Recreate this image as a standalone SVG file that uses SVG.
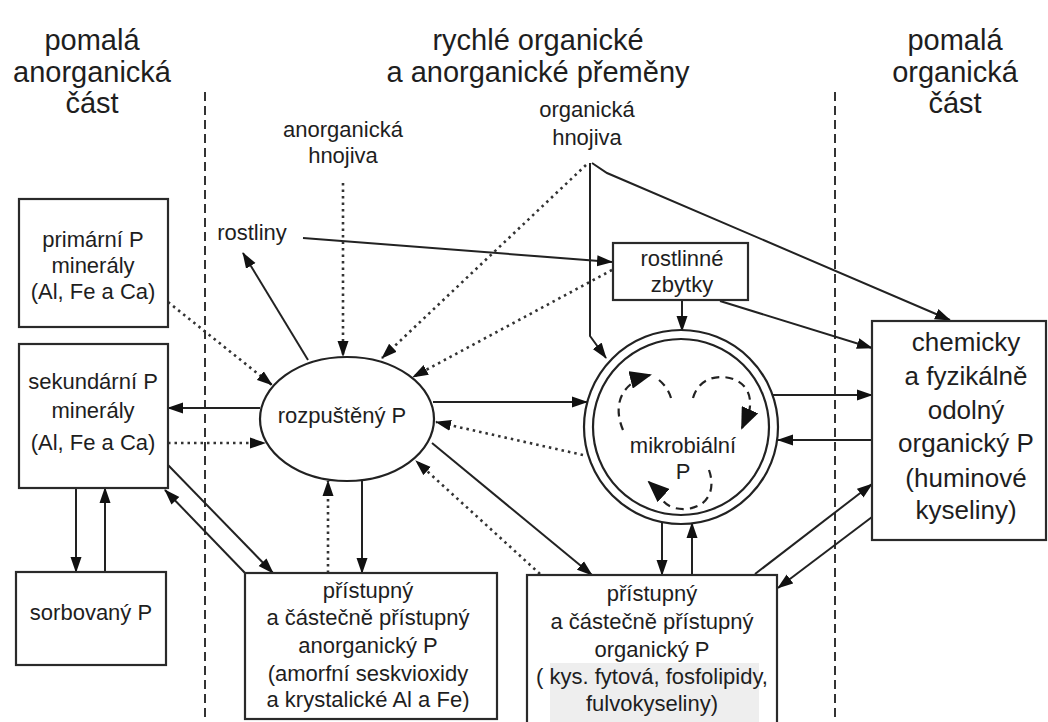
<svg xmlns="http://www.w3.org/2000/svg" width="1048" height="722" viewBox="0 0 1048 722">
<style>
text{font-family:"Liberation Sans",Arial,sans-serif;fill:#1e1e1e;text-anchor:middle}
.h{font-size:29px}
.t{font-size:22px}
.b{font-size:26px}
.box{fill:#fff;stroke:#2a2a2a;stroke-width:2.2}
.s{fill:none;stroke:#222;stroke-width:2;marker-end:url(#ah)}
.d{fill:none;stroke:#333;stroke-width:2.6;stroke-dasharray:2.5 4;marker-end:url(#ah)}
.sep{fill:none;stroke:#333;stroke-width:2;stroke-dasharray:9 5}
.loop{fill:none;stroke:#222;stroke-width:2.2;stroke-dasharray:8 6}
</style>
<defs>
<marker id="ah" markerUnits="userSpaceOnUse" markerWidth="16" markerHeight="12" refX="15" refY="6" orient="auto">
<path d="M0,0.5 L16,6 L0,11.5 z" fill="#111"/>
</marker>
<marker id="big" markerUnits="userSpaceOnUse" markerWidth="22" markerHeight="18" refX="20" refY="9" orient="auto">
<path d="M0,0 L22,9 L0,18 z" fill="#111"/>
</marker>
</defs>
<rect width="1048" height="722" fill="#fff"/>
<g id="headers">
<text class="h" x="92" y="50">pomalá</text>
<text class="h" x="92" y="82">anorganická</text>
<text class="h" x="92" y="113">část</text>
<text class="h" x="538" y="50">rychlé organické</text>
<text class="h" x="538" y="82">a anorganické přeměny</text>
<text class="h" x="955" y="50">pomalá</text>
<text class="h" x="955" y="82">organická</text>
<text class="h" x="955" y="113">část</text>
</g>
<g id="separators">
<line class="sep" x1="205" y1="92" x2="205" y2="722"/>
<line class="sep" x1="835" y1="92" x2="835" y2="722"/>
</g>
<g id="labels">
<text class="t" x="343" y="137">anorganická</text>
<text class="t" x="343" y="163">hnojiva</text>
<text class="t" x="587" y="117">organická</text>
<text class="t" x="587" y="145">hnojiva</text>
<text class="t" x="252" y="240">rostliny</text>
</g>
<g id="connectors">
<path class="s" d="M303,238 L612,262"/>
<path class="s" d="M308,360 L243,253"/>
<path class="d" d="M343,183 L343,356"/>
<path class="d" d="M586,165 L382,358"/>
<path class="d" d="M612,270 L413,377"/>
<path class="s" d="M590,163 L590,336 L606,358"/>
<path class="s" d="M592,163 L607,173 L950,320"/>
<path class="s" d="M682,300 L682,331"/>
<path class="s" d="M720,301 L872,348"/>
<path class="d" d="M168,302 L272,385"/>
<path class="s" d="M260,408 L168,408"/>
<path class="d" d="M168,443 L265,443"/>
<path class="s" d="M168,465 L273,573"/>
<path class="s" d="M245,573 L165,490"/>
<path class="s" d="M76,488 L76,572"/>
<path class="s" d="M105,572 L105,488"/>
<path class="s" d="M362,481 L362,573"/>
<path class="d" d="M328,573 L328,481"/>
<path class="s" d="M433,402 L587,402"/>
<path class="d" d="M583,455 L436,422"/>
<path class="s" d="M432,443 L592,575"/>
<path class="d" d="M540,574 L416,461"/>
<path class="s" d="M662,522 L662,575"/>
<path class="s" d="M692,575 L692,523"/>
<path class="s" d="M755,574 L872,484"/>
<path class="s" d="M872,517 L778,588"/>
<path class="s" d="M773,395 L872,395"/>
<path class="s" d="M872,440 L778,440"/>
</g>
<g id="primarni">
<rect class="box" x="19" y="199" width="149" height="128"/>
<text class="t" x="93" y="247">primární P</text>
<text class="t" x="93" y="273">minerály</text>
<text class="t" x="93" y="299">(Al, Fe a Ca)</text>
</g>
<g id="sekundarni">
<rect class="box" x="19" y="344" width="149" height="144"/>
<text class="t" x="93" y="389">sekundární P</text>
<text class="t" x="93" y="418">minerály</text>
<text class="t" x="93" y="450">(Al, Fe a Ca)</text>
</g>
<g id="sorbovany">
<rect class="box" x="16" y="572" width="150" height="93"/>
<text class="t" x="91" y="620">sorbovaný P</text>
</g>
<g id="rozpusteny">
<ellipse cx="347" cy="419" rx="87" ry="62" fill="#fff" stroke="#222" stroke-width="2.2"/>
<text class="t" x="342" y="423">rozpuštěný P</text>
</g>
<g id="zbytky">
<rect class="box" x="613" y="243" width="135" height="57"/>
<text class="t" x="682" y="266">rostlinné</text>
<text class="t" x="682" y="292">zbytky</text>
</g>
<g id="mikrobialni">
<circle cx="681" cy="427" r="97" fill="#fff" stroke="#222" stroke-width="2.2"/>
<circle cx="681" cy="427" r="88" fill="none" stroke="#222" stroke-width="2.2"/>
<path class="loop" d="M623,430 C612,404 622,382 650,375" marker-end="url(#big)"/>
<path class="loop" d="M659,380 C665,385 669,391 671,398"/>
<path class="loop" d="M693,398 C697,384 708,377 721,377 C742,377 754,392 749,412"/>
<path d="M749,412 L742,428" class="loop" marker-end="url(#big)"/>
<path class="loop" d="M709,470 C716,490 708,507 686,509 C670,510 662,502 659,494"/>
<path d="M662,494 L649,482" fill="none" stroke="#222" stroke-width="2" marker-end="url(#big)"/>
<text class="t" x="683" y="453">mikrobiální</text>
<text class="t" x="683" y="479">P</text>
</g>
<g id="anorganicky">
<rect class="box" x="245" y="573" width="252" height="146"/>
<text class="t" x="368" y="598">přístupný</text>
<text class="t" x="368" y="625">a částečně přístupný</text>
<text class="t" x="368" y="653">anorganický P</text>
<text class="t" x="368" y="681">(amorfní seskvioxidy</text>
<text class="t" x="368" y="707">a krystalické Al a Fe)</text>
</g>
<g id="organicky">
<rect class="box" x="527" y="575" width="250" height="160"/>
<rect x="550" y="663" width="209" height="59" fill="#eeeeee"/>
<text class="t" x="652" y="601">přístupný</text>
<text class="t" x="652" y="629">a částečně přístupný</text>
<text class="t" x="652" y="657">organický P</text>
<text class="t" x="652" y="684">( kys. fytová, fosfolipidy,</text>
<text class="t" x="652" y="711">fulvokyseliny)</text>
</g>
<g id="chemicky">
<rect class="box" x="872" y="321" width="174" height="219"/>
<text class="b" x="966" y="351">chemicky</text>
<text class="b" x="966" y="385">a fyzikálně</text>
<text class="b" x="966" y="419">odolný</text>
<text class="b" x="966" y="452">organický P</text>
<text class="b" x="966" y="487">(huminové</text>
<text class="b" x="966" y="519">kyseliny)</text>
</g>
</svg>
